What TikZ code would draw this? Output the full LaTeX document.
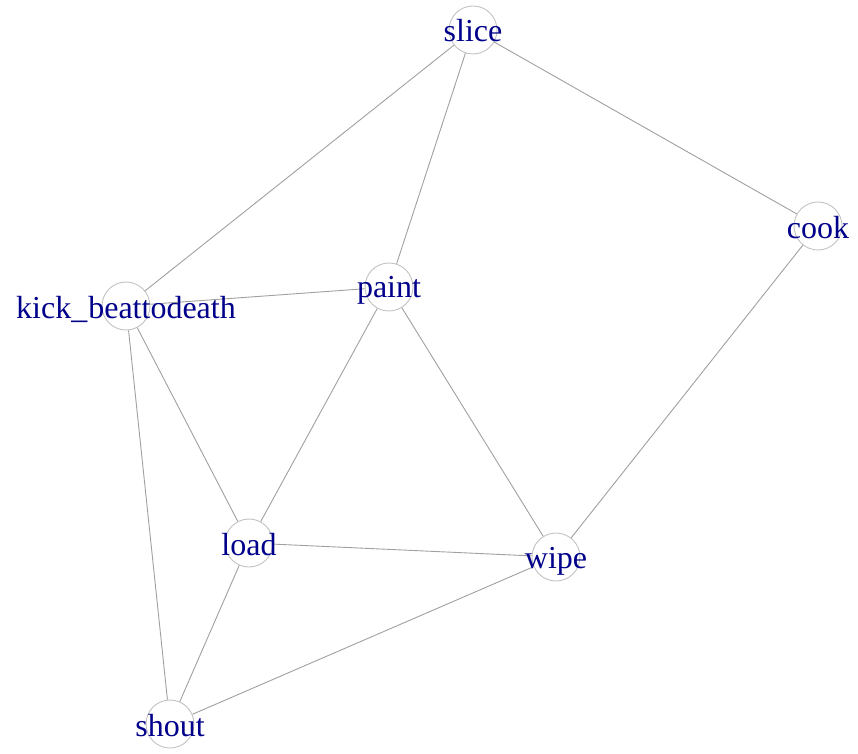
\documentclass[tikz,border=0pt]{standalone}
\usepackage{fontspec}
\setmainfont{Liberation Serif}
\definecolor{lab}{RGB}{0,0,139}
\definecolor{edgec}{RGB}{160,160,160}
\definecolor{ringc}{RGB}{195,195,195}
\begin{document}
\begin{tikzpicture}[x=1pt,y=1pt,
  vtx/.style={circle,draw=ringc,line width=0.9pt,fill=white,minimum size=48pt,inner sep=0pt},
  lbl/.style={text=lab,font=\fontsize{32}{32}\selectfont,anchor=base,inner sep=0pt},
  edge/.style={draw=edgec,line width=0.9pt}]
\useasboundingbox (0,0) rectangle (858,753);
% vertices (y = 753 - pixel row)
\node[vtx] (slice) at (473,723) {};
\node[vtx] (cook)  at (818,527) {};
\node[vtx] (paint) at (389,466) {};
\node[vtx] (kick)  at (126,447) {};
\node[vtx] (load)  at (249,210) {};
\node[vtx] (wipe)  at (556,196) {};
\node[vtx] (shout) at (170,29) {};
% edges
\draw[edge] (slice) -- (kick);
\draw[edge] (slice) -- (paint);
\draw[edge] (slice) -- (cook);
\draw[edge] (kick) -- (paint);
\draw[edge] (kick) -- (load);
\draw[edge] (kick) -- (shout);
\draw[edge] (paint) -- (load);
\draw[edge] (paint) -- (wipe);
\draw[edge] (cook) -- (wipe);
\draw[edge] (load) -- (wipe);
\draw[edge] (load) -- (shout);
\draw[edge] (shout) -- (wipe);
% labels
\node[lbl] (tslice) at ([yshift=-12pt]slice.center) {slice};
\node[lbl] (tcook)  at ([yshift=-13pt]cook.center) {cook};
\node[lbl] (tpaint) at ([yshift=-11pt]paint.center) {paint};
\node[lbl] (tkick)  at ([yshift=-13pt]kick.center) {kick\_\kern1pt beattodeath};
\node[lbl] (tload)  at ([yshift=-12pt]load.center) {load};
\node[lbl] (twipe)  at ([yshift=-11pt]wipe.center) {wipe};
\node[lbl] (tshout) at ([yshift=-12pt]shout.center) {shout};
\end{tikzpicture}
\end{document}
